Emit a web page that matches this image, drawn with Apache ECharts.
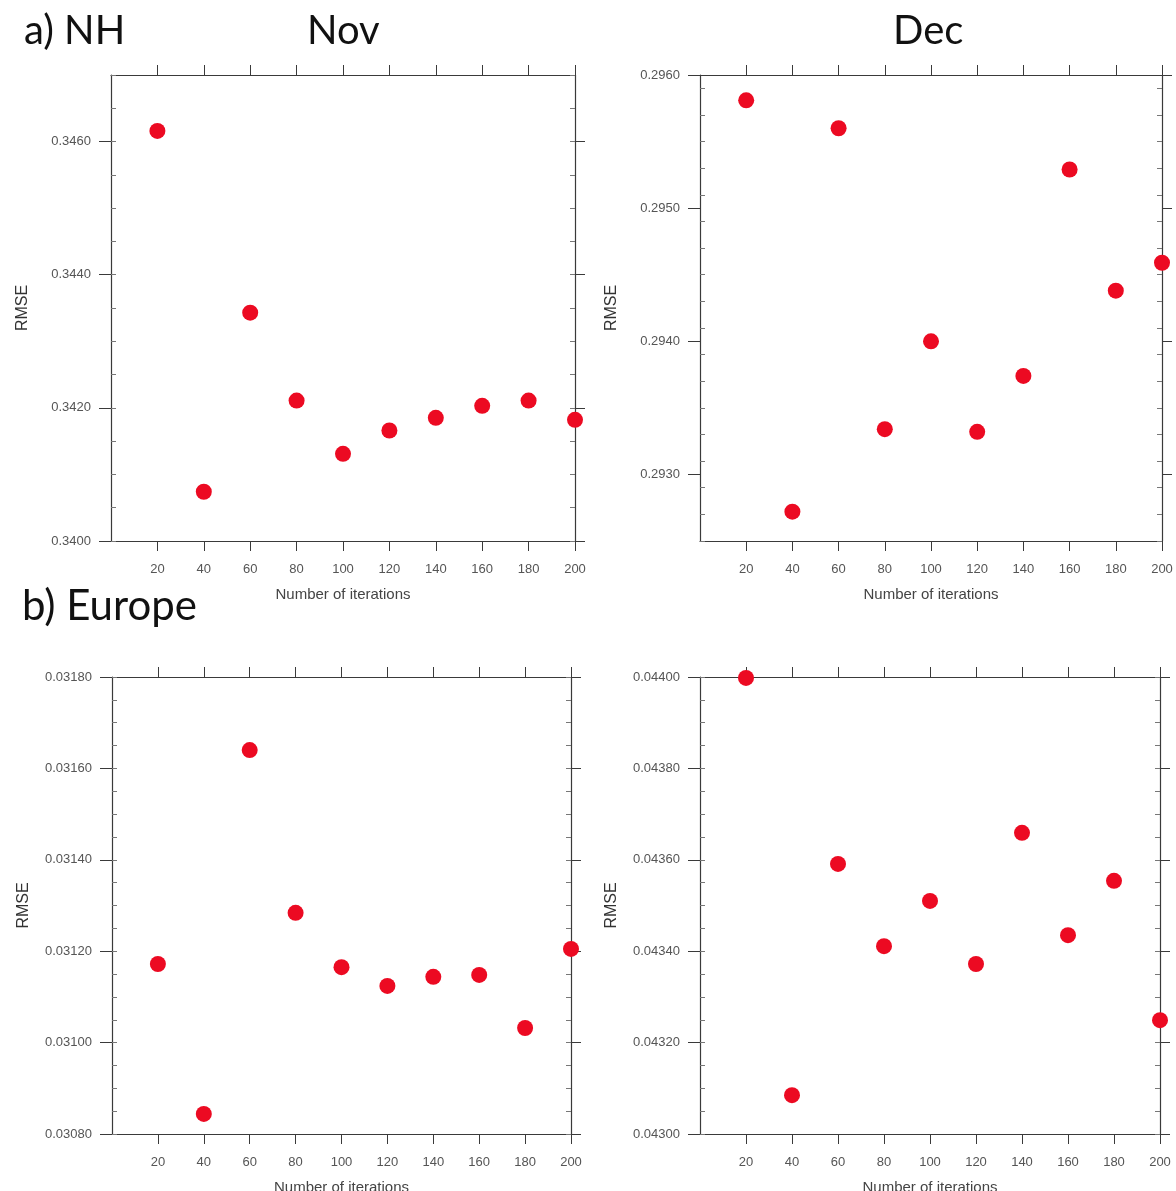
<!DOCTYPE html>
<html>
<head>
<meta charset="utf-8">
<script src="https://cdn.jsdelivr.net/npm/echarts@6/dist/echarts.min.js"></script>
<style>
html,body{margin:0;padding:0;background:#fff;}
#chart{width:1176px;height:1191px;}
</style>
</head>
<body>
<div id="chart"></div>
<script>
// ---- data ----
const iterations = [20, 40, 60, 80, 100, 120, 140, 160, 180, 200];
const nhNov  = [0.34616, 0.34074, 0.34343, 0.34211, 0.34131, 0.34166, 0.34185, 0.34203, 0.34211, 0.34182];
const nhDec  = [0.29581, 0.29272, 0.29560, 0.29334, 0.29400, 0.29332, 0.29374, 0.29529, 0.29438, 0.29459];
const euNov  = [0.031172, 0.030844, 0.031640, 0.031284, 0.031165, 0.031124, 0.031144, 0.031148, 0.031032, 0.031205];
const euDec  = [0.043998, 0.043085, 0.043591, 0.043411, 0.043510, 0.043372, 0.043659, 0.043435, 0.043554, 0.043249];

const xTicks = [20, 40, 60, 80, 100, 120, 140, 160, 180, 200];
const nhNovTicks = [0.3400, 0.3420, 0.3440, 0.3460];
const nhDecTicks = [0.2930, 0.2940, 0.2950, 0.2960];
const euNovTicks = [0.03080, 0.03100, 0.03120, 0.03140, 0.03160, 0.03180];
const euDecTicks = [0.04300, 0.04320, 0.04340, 0.04360, 0.04380, 0.04400];

const nhNovRange = [0.3400, 0.3470];
const nhDecRange = [0.2925, 0.2960];
const euNovRange = [0.03080, 0.03180];
const euDecRange = [0.04300, 0.04400];

// ---- layout / style ----
const AX = '#3a3a3a';
const LBL = '#555';
const FONT = '"Liberation Sans", Arial, sans-serif';
const RED = '#ec0a22';
const MINOR_LEN = 5;

function minorValues(range, step) {
  const out = [];
  const n = Math.round((range[1] - range[0]) / step);
  for (let i = 0; i <= n; i++) out.push(+(range[0] + i * step).toFixed(7));
  return out;
}

const panels = [
  { data: nhNov, ticks: nhNovTicks, range: nhNovRange, minor: 0.0005, dec: 4, grid: { left: 111, top: 75, width: 464, height: 466 } },
  { data: nhDec, ticks: nhDecTicks, range: nhDecRange, minor: 0.0002, dec: 4, grid: { left: 700, top: 75, width: 462, height: 466 } },
  { data: euNov, ticks: euNovTicks, range: euNovRange, minor: 0.00005, dec: 5, grid: { left: 112, top: 677, width: 459, height: 457 } },
  { data: euDec, ticks: euDecTicks, range: euDecRange, minor: 0.00005, dec: 5, grid: { left: 700, top: 677, width: 460, height: 457 } }
];

const grid = [], xAxis = [], yAxis = [], series = [];
panels.forEach((p, g) => {
  grid.push(Object.assign({ outerBoundsMode: 'none', containLabel: false }, p.grid));
  const W = p.grid.width;
  const xBase = { type: 'value', gridIndex: g, min: 0, max: 200, splitLine: { show: false },
    axisLine: { show: true, onZero: false, lineStyle: { color: AX, width: 1.2 } } };
  xAxis.push(Object.assign({}, xBase, {
    position: 'bottom',
    name: 'Number of iterations', nameLocation: 'middle', nameGap: 46,
    nameTextStyle: { fontFamily: FONT, fontSize: 15, color: '#444' },
    axisTick: { show: true, length: 10, customValues: xTicks, lineStyle: { color: AX } },
    axisLabel: { show: true, customValues: xTicks, margin: 22, fontFamily: FONT, fontSize: 13, color: LBL }
  }));
  xAxis.push(Object.assign({}, xBase, {
    position: 'top',
    axisTick: { show: true, length: 10, customValues: xTicks, lineStyle: { color: AX } },
    axisLabel: { show: false }
  }));
  const yBase = { type: 'value', gridIndex: g, min: p.range[0], max: p.range[1], scale: true, splitLine: { show: false },
    axisLine: { show: true, onZero: false, lineStyle: { color: AX, width: 1.2 } } };
  const minors = minorValues(p.range, p.minor);
  // left main (outward ticks + labels)
  yAxis.push(Object.assign({}, yBase, {
    position: 'left',
    name: 'RMSE', nameLocation: 'middle', nameGap: 80, nameRotate: 90,
    nameTextStyle: { fontFamily: FONT, fontSize: 16, color: '#333' },
    axisTick: { show: true, length: 12, customValues: p.ticks, lineStyle: { color: AX } },
    axisLabel: { show: true, customValues: p.ticks, margin: 20, fontFamily: FONT, fontSize: 13, color: LBL,
      formatter: v => v.toFixed(p.dec) }
  }));
  // left-edge minor ticks pointing inward: axis shifted right by tick length, ticks drawn back to the edge
  yAxis.push(Object.assign({}, yBase, {
    position: 'left', offset: -MINOR_LEN, axisLine: { show: false },
    axisTick: { show: true, length: MINOR_LEN, customValues: minors, lineStyle: { color: '#777' } },
    axisLabel: { show: false }
  }));
  // right main (outward ticks)
  yAxis.push(Object.assign({}, yBase, {
    position: 'right',
    axisTick: { show: true, length: 10, customValues: p.ticks, lineStyle: { color: AX } },
    axisLabel: { show: false }
  }));
  // right-edge minor ticks pointing inward
  yAxis.push(Object.assign({}, yBase, {
    position: 'left', offset: -W, axisLine: { show: false },
    axisTick: { show: true, length: MINOR_LEN, customValues: minors, lineStyle: { color: '#777' } },
    axisLabel: { show: false }
  }));
  series.push({
    type: 'scatter', xAxisIndex: 2 * g, yAxisIndex: 4 * g,
    symbol: 'circle', symbolSize: 16,
    itemStyle: { color: RED, opacity: 1 },
    data: iterations.map((x, i) => [x, p.data[i]])
  });
});

const titleFont = '40px Lato, "Open Sans", sans-serif';
const graphic = [
  { type: 'text', left: 24, top: 11, style: { text: 'a) NH', font: titleFont, fill: '#111' } },
  { type: 'text', left: 307, top: 11, style: { text: 'Nov', font: titleFont, fill: '#111' } },
  { type: 'text', left: 893, top: 11, style: { text: 'Dec', font: titleFont, fill: '#111' } },
  { type: 'text', left: 22, top: 585, style: { text: 'b) Europe', font: '42px Lato, "Open Sans", sans-serif', fill: '#111' } }
];

const chart = echarts.init(document.getElementById('chart'), null, { renderer: 'canvas' });
chart.setOption({
  animation: false,
  backgroundColor: '#fff',
  grid, xAxis, yAxis, series, graphic
});
</script>
</body>
</html>
